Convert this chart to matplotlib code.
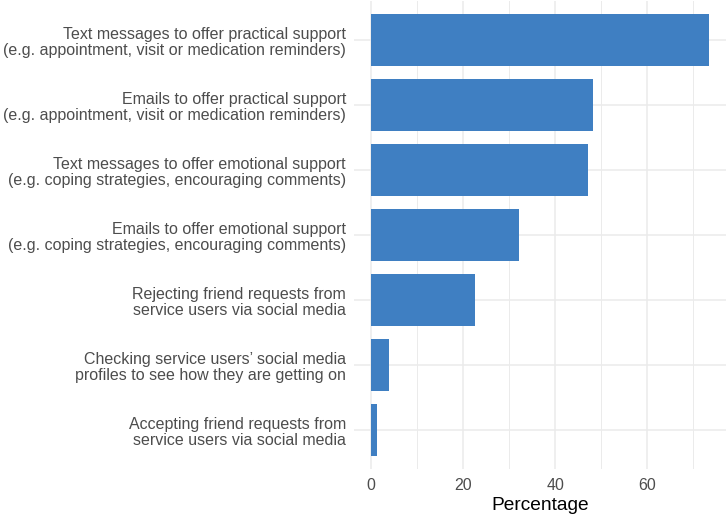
import matplotlib.pyplot as plt
from matplotlib.ticker import MultipleLocator

plt.rcParams['font.family'] = ['Liberation Sans', 'DejaVu Sans']

categories = [
    "Text messages to offer practical support\n(e.g. appointment, visit or medication reminders)",
    "Emails to offer practical support\n(e.g. appointment, visit or medication reminders)",
    "Text messages to offer emotional support\n(e.g. coping strategies, encouraging comments)",
    "Emails to offer emotional support\n(e.g. coping strategies, encouraging comments)",
    "Rejecting friend requests from\nservice users via social media",
    "Checking service users\u2019 social media\nprofiles to see how they are getting on",
    "Accepting friend requests from\nservice users via social media",
]
percentages = [73.5, 48.3, 47.0, 32.2, 22.5, 3.8, 1.3]

BAR_COLOR = "#3F7FC2"
GRID_COLOR = "#EBEBEB"

fig = plt.figure(figsize=(7.28, 5.17), dpi=100)
ax = fig.add_axes([0.4868, 0.0919, 0.5109, 0.9052])

ypos = list(range(len(categories)))
ax.barh(ypos, percentages, height=0.8, color=BAR_COLOR, zorder=3)

xmax = max(percentages)
ax.set_xlim(-0.05 * xmax, 1.05 * xmax)
ax.set_ylim(len(categories) - 0.4, -0.6)

ax.xaxis.set_major_locator(MultipleLocator(20))
ax.xaxis.set_minor_locator(MultipleLocator(10))
ax.set_yticks(ypos)
ax.set_yticklabels(categories, linespacing=1.1)

ax.grid(True, which='major', color=GRID_COLOR, linewidth=1.1, zorder=0)
ax.grid(True, which='minor', axis='x', color=GRID_COLOR, linewidth=0.7, zorder=0)
ax.set_axisbelow(True)

for s in ax.spines.values():
    s.set_visible(False)
ax.tick_params(which='both', length=0)
ax.tick_params(axis='y', pad=6, labelsize=11.5, labelcolor='#4D4D4D')
ax.tick_params(axis='x', pad=6, labelsize=11.5, labelcolor='#4D4D4D')

ax.set_xlabel("Percentage", fontsize=13.8, color='black', labelpad=3)

plt.savefig("out.png", dpi=100)
